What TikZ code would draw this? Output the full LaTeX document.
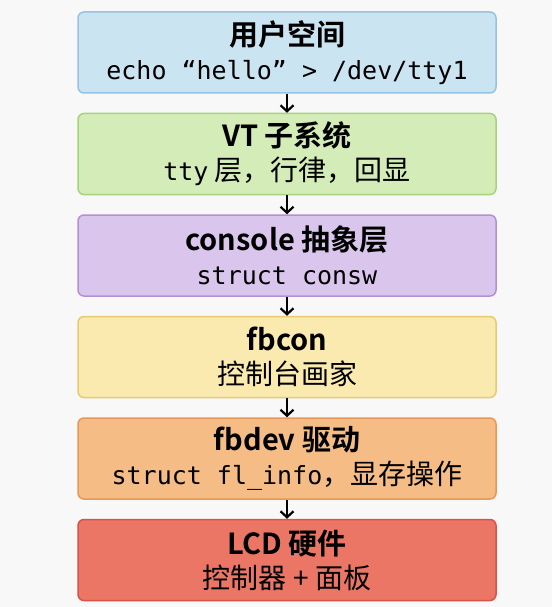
\documentclass[tikz,border=0pt]{standalone}
\usepackage{fontspec}
\setmainfont{Noto Sans CJK SC}
\newfontfamily\cjkbold{Noto Sans CJK SC Bold}
\newfontfamily\codefont{DejaVu Sans Mono}
\usetikzlibrary{positioning,arrows.meta}
\definecolor{bgcol}{RGB}{248,248,248}
\definecolor{userfill}{RGB}{202,228,242}
\definecolor{userline}{RGB}{150,195,226}
\definecolor{vtfill}{RGB}{212,236,184}
\definecolor{vtline}{RGB}{165,212,125}
\definecolor{consfill}{RGB}{218,198,236}
\definecolor{consline}{RGB}{175,145,212}
\definecolor{fbconfill}{RGB}{250,234,176}
\definecolor{fbconline}{RGB}{232,202,112}
\definecolor{fbdevfill}{RGB}{245,188,134}
\definecolor{fbdevline}{RGB}{232,152,84}
\definecolor{lcdfill}{RGB}{236,118,102}
\definecolor{lcdline}{RGB}{218,82,72}
\newcommand{\ttl}[1]{{\fontsize{29pt}{34pt}\selectfont\cjkbold #1}}
\newcommand{\code}[1]{{\fontsize{25pt}{34pt}\selectfont\codefont #1}}

\begin{document}
\begin{tikzpicture}[
    layer/.style={draw, line width=1.5pt, rounded corners=6pt, minimum width=418pt,
        minimum height=81pt, inner sep=0pt, align=center,
        font=\fontsize{28pt}{34pt}\selectfont},
    flow/.style={line width=2.2pt, -{Straight Barb[length=6pt,width=13pt]}}
]
% Background
\fill[bgcol] (0,0) rectangle (552pt,-607pt);
\useasboundingbox (0,0) rectangle (552pt,-607pt);

% Layers
\node[layer, fill=userfill, draw=userline] (user) at (287pt,-52.5pt)
    {\ttl{用户空间}\\\code{echo “hello” > /dev/tty1}};
\node[layer, fill=vtfill, draw=vtline, below=19pt of user] (vt)
    {\ttl{VT 子系统}\\\code{tty} 层，行律，回显};
\node[layer, fill=consfill, draw=consline, below=19pt of vt] (cons)
    {\ttl{console 抽象层}\\\code{struct consw}};
\node[layer, fill=fbconfill, draw=fbconline, below=19pt of cons] (fbcon)
    {\ttl{fbcon}\\控制台画家};
\node[layer, fill=fbdevfill, draw=fbdevline, below=19pt of fbcon] (fbdev)
    {\ttl{fbdev 驱动}\\\code{struct fl\_info}，显存操作};
\node[layer, fill=lcdfill, draw=lcdline, below=19pt of fbdev] (lcd)
    {\ttl{LCD 硬件}\\控制器 + 面板};

% Arrows
\draw[flow] (user) -- (vt);
\draw[flow] (vt) -- (cons);
\draw[flow] (cons) -- (fbcon);
\draw[flow] (fbcon) -- (fbdev);
\draw[flow] (fbdev) -- (lcd);
\end{tikzpicture}
\end{document}
